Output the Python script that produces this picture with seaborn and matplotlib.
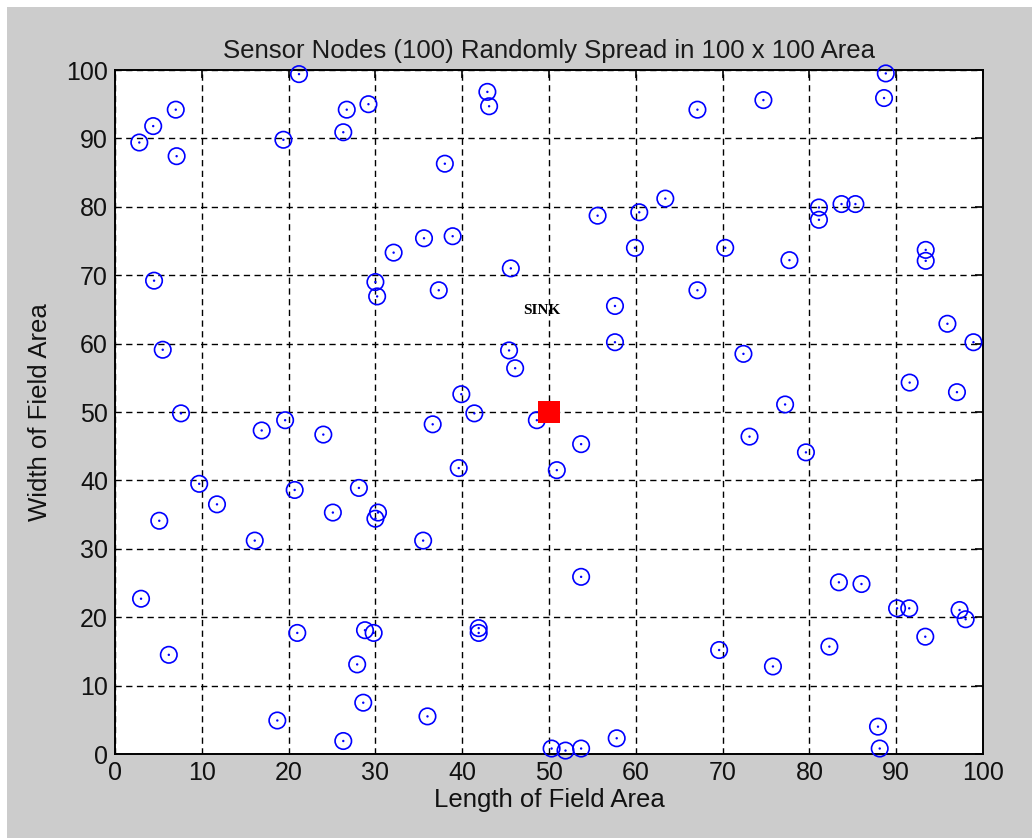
import matplotlib
matplotlib.use("Agg")
import matplotlib.pyplot as plt
import seaborn as sns
import pandas as pd
from matplotlib.patches import Rectangle

node_x = [2.8, 4.4, 7.0, 7.1, 21.2, 19.4, 26.7, 26.3, 29.2, 42.9,
          43.1, 38.0, 32.1, 35.6, 38.9, 45.6, 30.0, 30.2, 37.3, 4.5,
          5.5, 45.4, 46.1, 39.9, 41.4, 7.6, 19.6, 16.9, 24.0, 36.6,
          39.6, 9.7, 11.75, 5.1, 20.7, 28.1, 25.1, 30.3, 30.0, 16.1,
          35.5, 3.0, 6.2, 21.0, 28.8, 29.8, 41.9, 41.9, 27.9, 28.6,
          18.7, 36.0, 26.3, 67.1, 74.7, 88.8, 88.6, 55.6, 60.4, 63.4,
          81.1, 81.1, 83.7, 85.3, 59.9, 70.3, 77.7, 93.4, 93.4, 67.1,
          57.6, 57.6, 72.4, 95.9, 98.9, 91.55, 97.0, 77.2, 48.6, 53.7,
          50.9, 73.1, 79.6, 53.7, 83.4, 86.0, 90.1, 91.5, 97.3, 98.0,
          93.35, 69.6, 82.3, 75.8, 87.9, 88.1, 50.3, 51.9, 53.7, 57.8]
node_y = [89.4, 91.8, 94.2, 87.4, 99.4, 89.8, 94.2, 90.9, 95.0, 96.8,
          94.7, 86.3, 73.3, 75.4, 75.7, 71.0, 69.0, 66.9, 67.8, 69.2,
          59.1, 59.0, 56.4, 52.6, 49.8, 49.8, 48.8, 47.3, 46.7, 48.2,
          41.8, 39.5, 36.5, 34.1, 38.6, 38.9, 35.3, 35.3, 34.4, 31.2,
          31.2, 22.7, 14.5, 17.7, 18.1, 17.7, 18.4, 17.7, 13.1, 7.5,
          4.9, 5.5, 1.9, 94.2, 95.6, 99.5, 95.9, 78.7, 79.2, 81.2,
          79.9, 78.1, 80.4, 80.4, 74.0, 74.0, 72.2, 73.7, 72.1, 67.8,
          65.5, 60.2, 58.5, 62.9, 60.2, 54.3, 52.9, 51.1, 48.8, 45.3,
          41.5, 46.4, 44.1, 25.9, 25.1, 24.85, 21.3, 21.3, 21.05, 19.7,
          17.15, 15.2, 15.7, 12.8, 4.0, 0.8, 0.8, 0.5, 0.8, 2.3]
sink_x = [50.0]
sink_y = [50.0]
sink_label = "SINK"
sink_label_pos = (49.2, 64.8)
ticks = [0, 10, 20, 30, 40, 50, 60, 70, 80, 90, 100]
title = "Sensor Nodes (100) Randomly Spread in 100 x 100 Area"
xlabel = "Length of Field Area"
ylabel = "Width of Field Area"

sns.set_theme(style="white")
plt.rcParams['font.family'] = ['Liberation Sans', 'DejaVu Sans']
plt.rcParams['lines.scale_dashes'] = False

nodes = pd.DataFrame({"x": node_x, "y": node_y})
sink = pd.DataFrame({"x": sink_x, "y": sink_y})

fig = plt.figure(figsize=(10.32, 8.38), dpi=100, facecolor="white")
fig.patches.append(Rectangle((7/1032, 0), 1, 1 - 7/838, transform=fig.transFigure,
                             facecolor="#cccccc", edgecolor="none", zorder=-10))
ax = fig.add_axes([115/1032, 84/838, 868/1032, 684/838])
ax.set_facecolor("white")

ax.set_xlim(0, 100)
ax.set_ylim(0, 100)
ax.set_xticks(ticks)
ax.set_yticks(ticks)
ax.grid(True, color="black", linestyle=(0, (4.5, 3.2)), linewidth=1.0)
ax.set_axisbelow(True)

sns.scatterplot(data=nodes, x="x", y="y", ax=ax, marker="o", s=140,
                facecolors="none", edgecolor="blue", linewidth=1.2, zorder=3, clip_on=False)
sns.scatterplot(data=nodes, x="x", y="y", ax=ax, marker="o", s=3,
                color="blue", edgecolor="none", zorder=4, clip_on=False)
sns.scatterplot(data=sink, x="x", y="y", ax=ax, marker="s", s=240,
                color="red", edgecolor="none", zorder=5, clip_on=False)

ax.text(sink_label_pos[0], sink_label_pos[1], sink_label, ha="center", va="center",
        fontsize=11, fontweight="bold", family=["Liberation Serif"], color="black")

for sp in ax.spines.values():
    sp.set_visible(True)
    sp.set_color("black")
    sp.set_linewidth(1.4)

ax.tick_params(direction="in", length=6, width=1.2, top=True, right=True,
               labelsize=18, colors="black", labelcolor="#111111", pad=5)
ax.set_title(title, fontsize=18.5, color="#1a1a1a", pad=9)
ax.set_xlabel(xlabel, fontsize=18.5, color="#111111", labelpad=2)
ax.set_ylabel(ylabel, fontsize=18.5, color="#111111", labelpad=10)

fig.savefig("out.png", dpi=100, facecolor=fig.get_facecolor())
